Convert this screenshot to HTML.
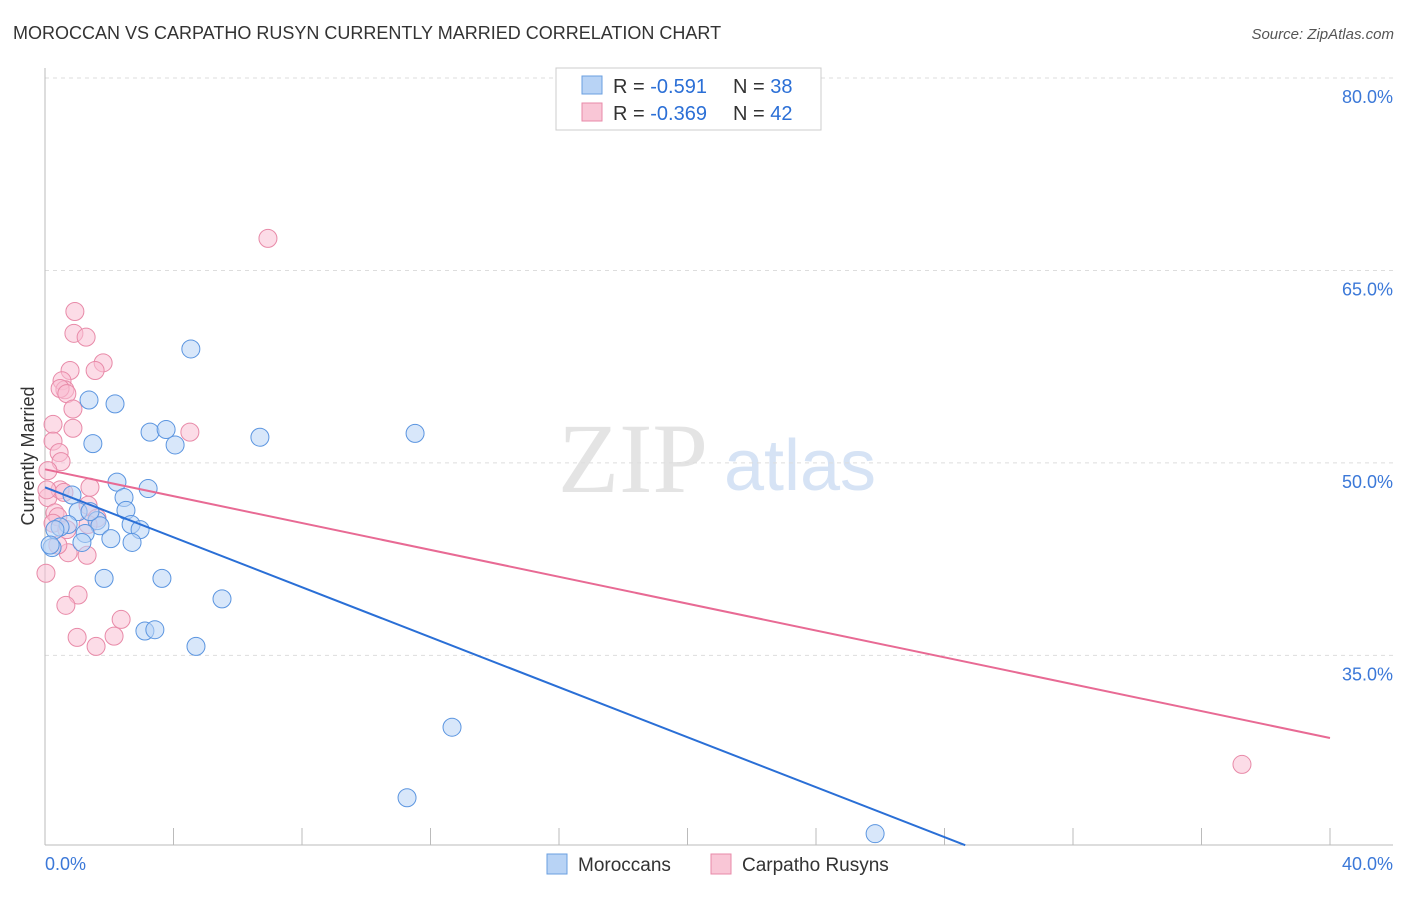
<!DOCTYPE html>
<html><head><meta charset="utf-8"><style>
body{margin:0;background:#fff;font-family:"Liberation Sans",sans-serif}
#wrap{position:relative;width:1406px;height:892px}
</style></head><body><div id="wrap">
<svg id="svg" width="1406" height="892" xmlns="http://www.w3.org/2000/svg">
<text x="13" y="39" font-size="18" fill="#333">MOROCCAN VS CARPATHO RUSYN CURRENTLY MARRIED CORRELATION CHART</text>
<text x="1394" y="39" font-size="15" fill="#555" font-style="italic" text-anchor="end">Source: ZipAtlas.com</text>
<text x="633" y="492" font-size="100" fill="#e4e4e4" font-family="Liberation Serif" text-anchor="middle">ZIP</text>
<text x="800" y="490" font-size="72" fill="#d6e3f5" text-anchor="middle">atlas</text>
<text transform="translate(34,456) rotate(-90)" font-size="18" fill="#333" text-anchor="middle">Currently Married</text>
<g id="grid"></g><g id="pts"></g><g id="lines"></g>
<g>
<rect x="556" y="68" width="265" height="62" fill="#fff" stroke="#ccc"/>
<rect x="582" y="76" width="20" height="18" fill="#b8d3f5" stroke="#6a9fe0"/>
<rect x="582" y="103" width="20" height="18" fill="#f9c6d6" stroke="#e88aa8"/>
<text x="613" y="93" font-size="20" fill="#333">R = <tspan fill="#2b6fd6">-0.591</tspan><tspan x="733">N = </tspan><tspan fill="#2b6fd6">38</tspan></text>
<text x="613" y="120" font-size="20" fill="#333">R = <tspan fill="#2b6fd6">-0.369</tspan><tspan x="733">N = </tspan><tspan fill="#2b6fd6">42</tspan></text>
</g>
<g>
<rect x="547" y="854" width="20" height="20" fill="#b8d3f5" stroke="#6a9fe0"/>
<text x="578" y="871" font-size="19" fill="#333">Moroccans</text>
<rect x="711" y="854" width="20" height="20" fill="#f9c6d6" stroke="#e88aa8"/>
<text x="742" y="871" font-size="19" fill="#333">Carpatho Rusyns</text>
</g>
</svg>
<script>
const yTicks=[80,65,50,35];
const yTickLabels=["80.0%","65.0%","50.0%","35.0%"];
const xTickLabels=["0.0%","40.0%"];
const blueX=[4.54,1.37,2.18,3.27,3.77,4.05,1.49,6.69,11.52,2.24,3.21,2.46,0.84,2.52,1.03,1.62,0.72,1.71,2.68,2.96,0.47,1.25,2.05,2.71,1.15,0.22,1.84,3.64,5.51,3.11,3.42,4.70,12.67,11.27,25.84,0.31,0.16,1.40];
const blueY=[58.88,54.9,54.6,52.4,52.6,51.4,51.5,52.0,52.3,48.5,48.0,47.3,47.5,46.3,46.2,45.5,45.2,45.1,45.2,44.8,45.0,44.5,44.1,43.8,43.8,43.4,41.0,41.0,39.4,36.9,37.0,35.7,29.4,23.9,21.1,44.8,43.6,46.2];
const pinkX=[6.94,0.93,0.90,1.28,1.81,1.56,0.78,0.53,0.62,0.47,0.68,0.87,0.25,0.87,0.25,0.44,0.50,0.09,0.09,0.47,1.40,0.59,0.31,0.40,1.34,1.62,0.25,1.34,0.68,1.31,0.72,0.03,1.03,0.65,2.37,1.00,2.15,1.59,4.51,37.26,0.06,0.40];
const pinkY=[67.5,61.8,60.1,59.8,57.8,57.2,57.2,56.4,55.7,55.8,55.4,54.2,53.0,52.7,51.7,50.8,50.1,49.4,47.3,47.9,48.1,47.7,46.1,45.8,46.7,45.7,45.3,45.2,44.8,42.8,43.0,41.4,39.7,38.9,37.8,36.4,36.5,35.7,52.4,26.5,47.9,43.6];
const blueTrend=[48.1,-0.974];
const pinkTrend=[49.5,-0.5235];
const X=v=>45+v/40*1285, Y=v=>78+(80-v)*12.83;
const NS="http://www.w3.org/2000/svg";
function mk(t,a,p){const e=document.createElementNS(NS,t);for(const k in a)e.setAttribute(k,a[k]);p.appendChild(e);return e;}
const g=document.getElementById('grid');
yTicks.forEach((t,i)=>{
 const l=mk('line',{x1:45,x2:1393,y1:Y(t),y2:Y(t),stroke:'#ddd','stroke-dasharray':'4,4'},g);
 
 
 const tx=mk('text',{x:1393,y:Y(t)+25,'font-size':18,fill:'#3b78d8','text-anchor':'end'},g);tx.textContent=yTickLabels[i];
 
 
});
let a=mk('line',{x1:45,x2:45,y1:68,y2:845,stroke:'#bbb'},g);


a=mk('line',{x1:45,x2:1393,y1:845,y2:845,stroke:'#bbb'},g);


for(let i=0;i<=10;i++){const t=mk('line',{x1:X(i*4),x2:X(i*4),y1:828,y2:845,stroke:'#bbb'},g);
 
 }
[[0,'start'],[40,'end']].forEach((p,i)=>{const t=mk('text',{x:i?1393:45,y:870,'font-size':18,fill:'#3b78d8','text-anchor':p[1]},g);t.textContent=xTickLabels[i];
 
 });
const P=document.getElementById('pts');
function dots(xs,ys,fill,stroke,name){xs.forEach((x,i)=>{const c=mk('circle',{cx:X(x),cy:Y(ys[i]),r:9,fill:fill,'fill-opacity':0.55,stroke:stroke,'stroke-width':1},P);
 
 });}
dots(pinkX,pinkY,'#f9c0d3','#e88aa8','point-carpatho');
dots(blueX,blueY,'#b8d3f5','#5b95e0','point-moroccan');
const L=document.getElementById('lines');
let xe=(20.2-blueTrend[0])/blueTrend[1];
let ln=mk('line',{x1:X(0),y1:Y(blueTrend[0]),x2:X(xe),y2:Y(20.2),stroke:'#2a6fd6','stroke-width':2},L);


ln=mk('line',{x1:X(0),y1:Y(pinkTrend[0]),x2:X(40),y2:Y(pinkTrend[0]+40*pinkTrend[1]),stroke:'#e86a94','stroke-width':2},L);


</script></div></body></html>
